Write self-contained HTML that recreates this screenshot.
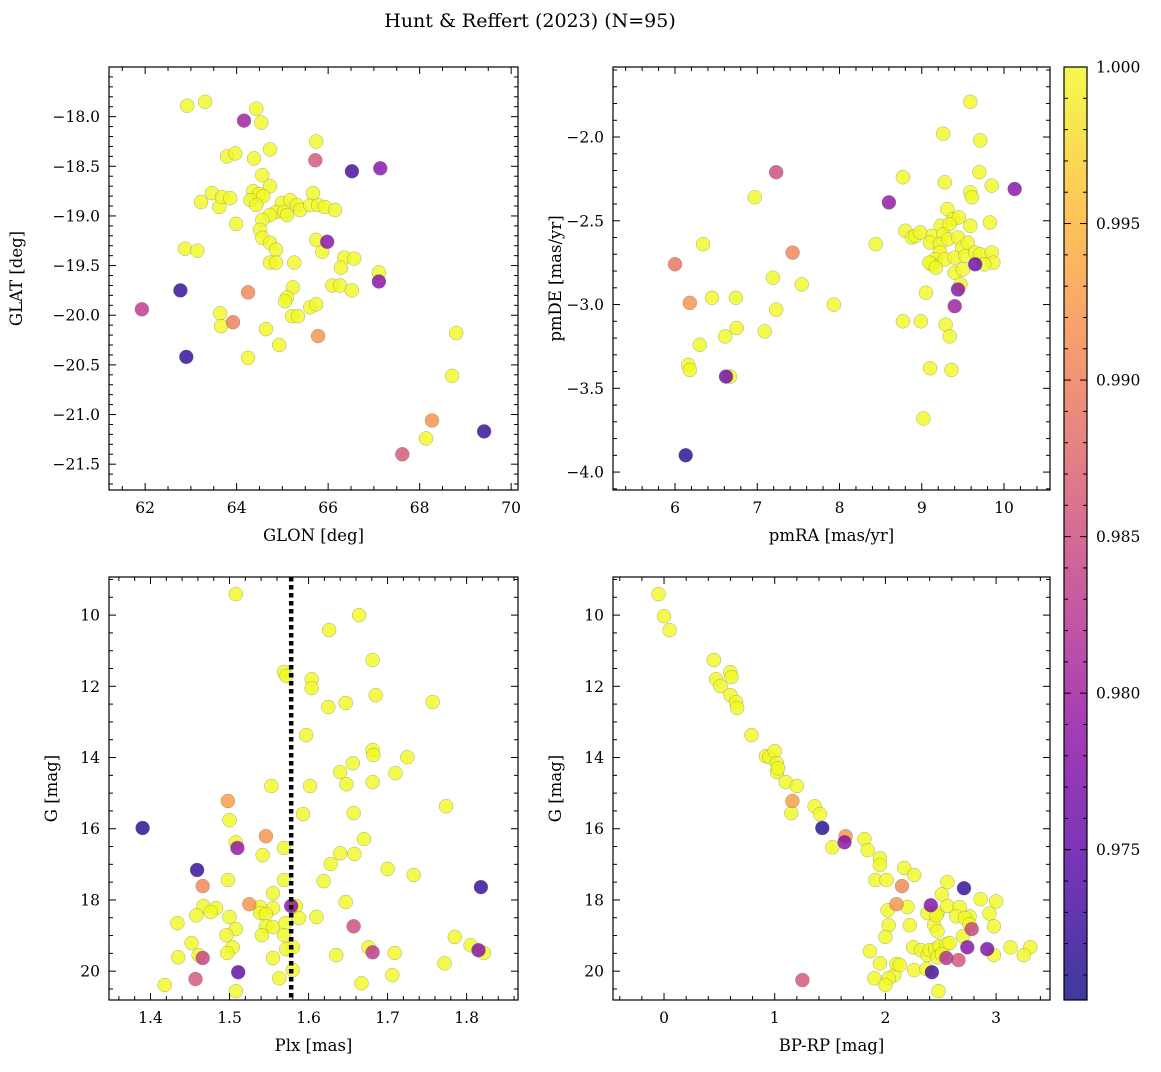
<!DOCTYPE html>
<html><head><meta charset="utf-8"><style>
html,body{margin:0;padding:0;background:#fff;}
svg text{font-family:"DejaVu Serif","Liberation Serif",serif;fill:#000;}
</style></head><body>
<svg id="fig" xmlns="http://www.w3.org/2000/svg" width="1161" height="1067" viewBox="0 0 1161 1067">
<text x="530" y="27" font-size="19" text-anchor="middle">Hunt &amp; Reffert (2023) (N=95)</text>
</svg>
<script>
// ---- data (value, value, membership probability) ----
const p1GLON=[62.92,63.31,64.16,64.43,64.54,64.73,65.74,65.72,66.52,67.14,63.79,63.97,64.38,64.56,64.73,64.36,64.49,64.58,64.30,64.43,63.46,63.62,63.68,63.86,63.22,64.99,64.86,64.73,65.17,65.32,65.39,65.61,65.78,65.93,66.15,65.67,65.04,65.10,64.56,64.51,64.56,64.73,64.86,64.73,64.86,65.26,63.99,65.98,65.87,65.74,62.87,63.14,66.35,66.28,66.57,67.11,67.11,66.09,66.26,66.52,62.77,64.25,61.93,63.64,63.92,63.66,65.23,65.10,65.06,65.21,65.34,65.61,65.74,64.93,64.64,64.25,65.78,62.90,68.80,68.71,68.27,68.14,67.62,69.41];
const p1GLAT=[-17.89,-17.85,-18.04,-17.92,-18.06,-18.33,-18.25,-18.44,-18.55,-18.52,-18.40,-18.37,-18.42,-18.59,-18.70,-18.75,-18.78,-18.80,-18.84,-18.89,-18.77,-18.91,-18.81,-18.82,-18.86,-18.87,-18.96,-18.99,-18.84,-18.89,-18.94,-18.89,-18.89,-18.91,-18.94,-18.77,-18.96,-18.99,-19.04,-19.14,-19.22,-19.27,-19.34,-19.47,-19.47,-19.47,-19.08,-19.26,-19.36,-19.24,-19.33,-19.35,-19.42,-19.52,-19.43,-19.57,-19.66,-19.70,-19.70,-19.75,-19.75,-19.77,-19.94,-19.98,-20.07,-20.11,-19.72,-19.82,-19.86,-20.01,-20.01,-19.92,-19.89,-20.30,-20.14,-20.43,-20.21,-20.42,-20.18,-20.61,-21.06,-21.24,-21.40,-21.17];
const p1Prob=[1,1,.980,1,1,1,1,.986,.973,.978,1,1,1,1,1,1,1,1,1,1,1,1,1,1,1,1,1,1,1,1,1,1,1,1,1,1,1,1,1,1,1,1,1,1,1,1,1,.978,1,1,1,1,1,1,1,1,.978,1,1,1,.972,.991,.983,1,.990,1,1,1,1,1,1,1,1,1,1,1,.992,.972,1,1,.992,1,.986,.972];

const p2pmRA=[9.59,9.71,9.26,7.23,8.77,9.70,9.59,9.61,9.28,9.85,10.13,6.97,8.60,9.31,9.38,9.45,9.23,9.12,9.26,9.34,9.83,9.59,8.80,8.88,8.92,8.98,8.44,6.34,7.43,6.00,9.10,9.22,9.32,9.44,9.49,9.56,9.22,9.16,9.28,9.40,9.53,9.65,9.71,9.85,9.87,9.76,9.65,9.12,9.09,9.17,9.40,9.50,7.19,7.54,9.44,9.47,6.18,6.45,6.74,7.93,9.05,9.40,7.23,8.77,8.99,9.29,9.34,6.75,7.09,6.61,6.30,6.16,6.18,9.10,9.36,6.62,6.67,9.02,6.13];
const p2pmDE=[-1.79,-2.02,-1.98,-2.21,-2.24,-2.21,-2.33,-2.36,-2.27,-2.29,-2.31,-2.36,-2.39,-2.43,-2.49,-2.48,-2.53,-2.59,-2.58,-2.52,-2.51,-2.53,-2.56,-2.60,-2.59,-2.57,-2.64,-2.64,-2.69,-2.76,-2.63,-2.64,-2.61,-2.60,-2.66,-2.63,-2.69,-2.73,-2.73,-2.72,-2.71,-2.69,-2.70,-2.69,-2.75,-2.76,-2.76,-2.76,-2.75,-2.78,-2.81,-2.79,-2.84,-2.88,-2.91,-2.88,-2.99,-2.96,-2.96,-3.00,-2.93,-3.01,-3.03,-3.10,-3.10,-3.12,-3.19,-3.14,-3.16,-3.19,-3.24,-3.36,-3.39,-3.38,-3.39,-3.43,-3.43,-3.68,-3.90];
const p2Prob=[1,1,1,.985,1,1,1,1,1,1,.978,1,.979,1,1,1,1,1,1,1,1,1,1,1,1,1,1,1,.991,.989,1,1,1,1,1,1,1,1,1,1,1,1,1,1,1,1,.976,1,1,1,1,1,1,1,.978,1,.992,1,1,1,1,.980,1,1,1,1,1,1,1,1,1,1,1,1,1,.976,1,1,.971];

const p3Plx=[1.508,1.664,1.626,1.569,1.572,1.604,1.604,1.681,1.685,1.647,1.625,1.757,1.597,1.681,1.682,1.725,1.656,1.640,1.710,1.681,1.648,1.553,1.602,1.774,1.593,1.657,1.498,1.500,1.390,1.508,1.510,1.546,1.670,1.569,1.542,1.658,1.640,1.628,1.700,1.733,1.459,1.619,1.498,1.569,1.466,1.555,1.647,1.818,1.467,1.483,1.476,1.539,1.555,1.584,1.610,1.500,1.525,1.578,1.539,1.546,1.546,1.541,1.555,1.434,1.458,1.571,1.588,1.657,1.508,1.496,1.569,1.785,1.805,1.822,1.452,1.504,1.676,1.681,1.580,1.572,1.635,1.709,1.815,1.772,1.435,1.497,1.466,1.461,1.555,1.580,1.563,1.706,1.511,1.457,1.418,1.508,1.667];
const p3G=[9.41,10.00,10.42,11.60,11.71,11.80,12.05,11.26,12.25,12.47,12.58,12.44,13.37,13.79,13.93,13.99,14.16,14.41,14.44,14.69,14.75,14.80,14.80,15.37,15.59,15.56,15.22,15.76,15.98,16.38,16.54,16.21,16.29,16.54,16.74,16.71,16.69,16.99,17.13,17.30,17.16,17.47,17.44,17.44,17.61,17.81,18.06,17.64,18.17,18.23,18.34,18.20,18.23,18.17,18.48,18.48,18.12,18.17,18.37,18.40,18.74,18.99,18.76,18.65,18.43,18.65,18.51,18.74,18.82,18.99,18.99,19.04,19.27,19.49,19.21,19.33,19.33,19.47,19.33,19.38,19.55,19.49,19.41,19.78,19.61,19.49,19.63,19.55,19.63,19.97,20.20,20.11,20.03,20.22,20.39,20.56,20.34];
const p3Prob=[1,1,1,1,1,1,1,1,1,1,1,1,1,1,1,1,1,1,1,1,1,1,1,1,1,1,.993,1,.971,1,.979,.992,1,1,1,1,1,1,1,1,.972,1,1,1,.991,1,1,.972,1,1,1,1,1,1,1,1,.992,.978,1,1,1,1,1,1,1,1,1,.985,1,1,1,1,1,1,1,1,1,.983,1,1,1,1,.978,1,1,1,.984,1,1,1,1,1,.975,.986,1,1,1];
const plxLine=1.578;

const p4BPRP=[-0.05,0.00,0.05,0.45,0.47,0.60,0.61,0.51,0.60,0.65,0.66,0.79,0.92,0.95,1.00,1.02,1.02,1.03,1.10,1.20,1.36,1.41,1.16,1.15,1.43,1.52,1.63,1.64,1.81,1.84,1.95,1.95,1.91,2.01,2.17,2.26,2.15,2.51,2.56,2.71,2.10,2.20,2.41,2.38,2.47,2.56,2.67,2.64,2.76,2.72,2.86,3.00,2.94,2.98,2.76,2.78,2.02,2.03,2.22,2.44,2.47,2.46,2.00,1.86,2.25,2.32,2.38,2.40,2.45,2.49,2.55,2.47,2.51,2.70,2.58,2.74,2.92,2.98,3.13,3.31,3.25,1.95,2.08,2.10,2.03,2.26,2.13,2.55,2.37,2.42,2.66,1.25,1.90,2.00,2.48];
const p4G=[9.41,10.03,10.42,11.26,11.80,11.60,11.74,11.99,12.25,12.44,12.61,13.37,13.96,13.99,13.82,14.16,14.41,14.30,14.69,14.80,15.37,15.59,15.22,15.56,15.98,16.52,16.38,16.21,16.29,16.60,16.83,17.02,17.44,17.44,17.10,17.30,17.61,17.84,17.50,17.67,18.12,18.20,18.15,18.37,18.37,18.17,18.20,18.46,18.46,18.51,17.98,18.04,18.38,18.74,18.68,18.82,18.29,18.71,18.71,18.71,18.88,18.43,19.04,19.44,19.33,19.41,19.55,19.41,19.38,19.30,19.24,19.61,19.52,19.02,19.21,19.33,19.38,19.55,19.33,19.33,19.55,19.78,20.11,19.80,20.20,19.97,19.83,19.63,19.94,20.03,19.69,20.25,20.20,20.39,20.56];
const p4Prob=[1,1,1,1,1,1,1,1,1,1,1,1,1,1,1,1,1,1,1,1,1,1,.993,1,.971,1,.978,.992,1,1,1,1,1,1,1,1,.991,1,1,.972,.992,1,.978,1,1,1,1,1,1,1,1,1,1,1,1,.984,1,1,1,1,1,1,1,1,1,1,1,1,1,1,1,1,1,1,1,.978,.977,1,1,1,1,1,1,1,1,1,1,.982,1,.973,.986,.986,1,1,1];

const cbTicks=[0.975,0.980,0.985,0.990,0.995,1.000];
const cMin=0.9702,cMax=1.0;

// ---- helpers ----
const NS="http://www.w3.org/2000/svg";
const svg=document.getElementById('fig');
function mk(tag,attrs,parent){const e=document.createElementNS(NS,tag);for(const k in attrs)e.setAttribute(k,attrs[k]);(parent||svg).appendChild(e);return e;}
const stops=[[13,8,135],[84,2,163],[139,10,165],[185,50,137],[219,92,104],[244,136,73],[254,188,43],[240,249,33]];
function plasma(t){t=Math.max(0,Math.min(1,t));const s=t*(stops.length-1);const i=Math.min(stops.length-2,Math.floor(s));const f=s-i;const a=stops[i],b=stops[i+1];return 'rgb('+a.map((v,k)=>Math.round(v+(b[k]-v)*f)).join(',')+')';}
function cnorm(p){return (p-cMin)/(cMax-cMin);}
function fmt(v,d){return v.toFixed(d).replace('-','\u2212');}

function panel(o){
  const g=mk('g',{});
  
  
  const X=v=>o.x0+(v-o.xmin)/(o.xmax-o.xmin)*(o.x1-o.x0);
  const Y=o.yinv?(v=>o.y0+(v-o.ymin)/(o.ymax-o.ymin)*(o.y1-o.y0)):(v=>o.y1-(v-o.ymin)/(o.ymax-o.ymin)*(o.y1-o.y0));
  const pg=mk('g',{},g);
  
  
  const idx=o.xs.map((_,i)=>i).sort((a,b)=>o.ps[b]-o.ps[a]);
  idx.forEach(i=>{
    const c=mk('circle',{cx:X(o.xs[i]).toFixed(1),cy:Y(o.ys[i]).toFixed(1),r:7,fill:plasma(cnorm(o.ps[i])),'fill-opacity':0.8,stroke:'#777','stroke-width':0.5,'stroke-opacity':0.6},pg);
    
    
  });
  if(o.extra)o.extra(g,X,Y);
  const fr=mk('rect',{x:o.x0,y:o.y0,width:o.x1-o.x0,height:o.y1-o.y0,fill:'none',stroke:'#000','stroke-width':1.2},g);
  
  
  const tg=mk('g',{stroke:'#000','stroke-width':1},g);
  for(let v=Math.ceil(o.xmin/o.xmi-1e-6)*o.xmi;v<=o.xmax+1e-9;v+=o.xmi){const x=X(v);const maj=Math.abs(v/o.xma-Math.round(v/o.xma))<1e-6;const L=maj?7:4;
    mk('line',{x1:x,y1:o.y1,x2:x,y2:o.y1-L},tg);mk('line',{x1:x,y1:o.y0,x2:x,y2:o.y0+L},tg);}
  for(let v=Math.ceil(o.ymin/o.ymi-1e-6)*o.ymi;v<=o.ymax+1e-9;v+=o.ymi){const y=Y(v);const maj=Math.abs(v/o.yma-Math.round(v/o.yma))<1e-6;const L=maj?7:4;
    mk('line',{x1:o.x0,y1:y,x2:o.x0+L,y2:y},tg);mk('line',{x1:o.x1,y1:y,x2:o.x1-L,y2:y},tg);}
  o.xticks.forEach(v=>{const t=mk('text',{x:X(v),y:o.y1+23,'font-size':15.5,'text-anchor':'middle'},g);t.textContent=fmt(v,o.xd);
    });
  o.yticks.forEach(v=>{const t=mk('text',{x:o.x0-9,y:Y(v)+5.5,'font-size':15.5,'text-anchor':'end'},g);t.textContent=fmt(v,o.yd);
    });
  const xl=mk('text',{x:(o.x0+o.x1)/2,y:o.y1+51,'font-size':16.5,'text-anchor':'middle'},g);xl.textContent=o.xlabel;
  
  const ylx=o.x0-o.ylo,yly=(o.y0+o.y1)/2;
  const yl=mk('text',{x:ylx,y:yly,'font-size':16.5,'text-anchor':'middle',transform:`rotate(-90 ${ylx} ${yly})`},g);yl.textContent=o.ylabel;
  
}

panel({name:'glon-glat-panel',x0:109,x1:518,y0:67,y1:490,xmin:61.21,xmax:70.15,ymin:-21.76,ymax:-17.50,xs:p1GLON,ys:p1GLAT,ps:p1Prob,
  xma:2,xmi:0.5,yma:0.5,ymi:0.1,xticks:[62,64,66,68,70],yticks:[-18,-18.5,-19,-19.5,-20,-20.5,-21,-21.5],xd:0,yd:1,xlabel:'GLON [deg]',ylabel:'GLAT [deg]',ylo:87});
panel({name:'pm-panel',x0:613,x1:1050,y0:67,y1:490,xmin:5.246,xmax:10.559,ymin:-4.107,ymax:-1.582,xs:p2pmRA,ys:p2pmDE,ps:p2Prob,
  xma:1,xmi:0.2,yma:0.5,ymi:0.1,xticks:[6,7,8,9,10],yticks:[-2,-2.5,-3,-3.5,-4],xd:0,yd:1,xlabel:'pmRA [mas/yr]',ylabel:'pmDE [mas/yr]',ylo:52});
panel({name:'plx-g-panel',x0:109,x1:518,y0:577,y1:1000,xmin:1.3475,xmax:1.865,ymin:8.93,ymax:20.81,yinv:true,xs:p3Plx,ys:p3G,ps:p3Prob,
  xma:0.1,xmi:0.02,yma:2,ymi:0.5,xticks:[1.4,1.5,1.6,1.7,1.8],yticks:[10,12,14,16,18,20],xd:1,yd:0,xlabel:'Plx [mas]',ylabel:'G [mag]',ylo:52,
  extra:(g,X,Y)=>{const l=mk('line',{x1:X(plxLine),x2:X(plxLine),y1:577,y2:1000,stroke:'#000','stroke-width':4.5,'stroke-dasharray':'4.5 3.5'},g);
    }});
panel({name:'cmd-panel',x0:613,x1:1050,y0:577,y1:1000,xmin:-0.461,xmax:3.487,ymin:8.93,ymax:20.81,yinv:true,xs:p4BPRP,ys:p4G,ps:p4Prob,
  xma:1,xmi:0.2,yma:2,ymi:0.5,xticks:[0,1,2,3],yticks:[10,12,14,16,18,20],xd:0,yd:0,xlabel:'BP-RP [mag]',ylabel:'G [mag]',ylo:52});

(function(){
  const x0=1064,x1=1087,y0=67,y1=1000;
  const cb=mk('g',{});
  const defs=mk('defs',{},cb);const lg=mk('linearGradient',{id:'cbg',x1:0,y1:1,x2:0,y2:0},defs);
  for(let i=0;i<=20;i++)mk('stop',{offset:i/20,'stop-color':plasma(i/20),'stop-opacity':0.8},lg);
  mk('rect',{x:x0,y:y0,width:x1-x0,height:y1-y0,fill:'url(#cbg)',stroke:'#000','stroke-width':1.2},cb);
  const CY=v=>y1-(v-cMin)/(cMax-cMin)*(y1-y0);
  for(let k=Math.ceil(cMin*1000);k<=1000;k++){const y=CY(k/1000);const maj=k%5===0;const L=maj?7:4;
    mk('line',{x1:x1,y1:y,x2:x1-L,y2:y,stroke:'#000','stroke-width':1},cb);mk('line',{x1:x0,y1:y,x2:x0+L,y2:y,stroke:'#000','stroke-width':1},cb);}
  cbTicks.forEach(v=>{const t=mk('text',{x:x1+9,y:CY(v)+5.5,'font-size':15.5},cb);t.textContent=v.toFixed(3);
    });
})();
</script>
</body></html>
